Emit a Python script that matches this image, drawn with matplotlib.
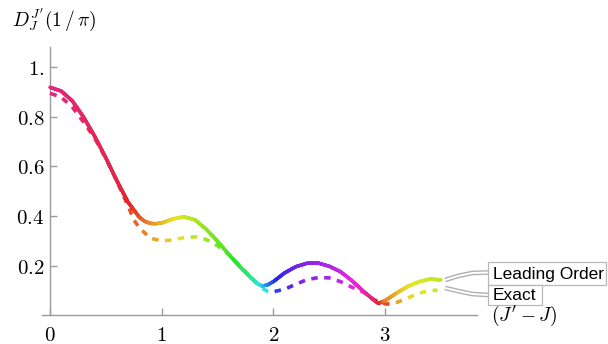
import numpy as np
import matplotlib
matplotlib.use("Agg")
import matplotlib.pyplot as plt
from matplotlib.collections import LineCollection
from matplotlib.colors import hsv_to_rgb
from matplotlib.patches import Rectangle
from matplotlib.lines import Line2D

plt.rcParams['mathtext.fontset'] = 'cm'

# ---------------- data ----------------
x_lead = [0.0, 0.1, 0.2, 0.3, 0.4, 0.5, 0.6, 0.7, 0.8, 0.85, 0.9, 0.95, 1.0, 1.1, 1.2, 1.3,
          1.4, 1.5, 1.6, 1.7, 1.8, 1.85, 1.9, 1.95, 2.0, 2.1, 2.2, 2.3, 2.4, 2.5, 2.6,
          2.7, 2.8, 2.9, 2.94, 3.0, 3.1, 3.2, 3.3, 3.4, 3.5]
y_lead = [0.920, 0.905, 0.865, 0.800, 0.722, 0.635, 0.541, 0.455, 0.395, 0.378, 0.370, 0.369,
          0.372, 0.388, 0.397, 0.384, 0.346, 0.298, 0.245, 0.195, 0.150, 0.129, 0.117, 0.122,
          0.135, 0.170, 0.195, 0.209, 0.210, 0.197, 0.175, 0.140, 0.098, 0.060, 0.047, 0.058,
          0.088, 0.115, 0.134, 0.145, 0.142]

x_exact = [0.0, 0.1, 0.2, 0.3, 0.4, 0.5, 0.6, 0.7, 0.75, 0.8, 0.9, 1.0, 1.1, 1.2, 1.3, 1.4,
           1.5, 1.6, 1.7, 1.8, 1.9, 1.95, 2.0, 2.1, 2.2, 2.3, 2.4, 2.5, 2.6, 2.7, 2.8, 2.9,
           3.0, 3.05, 3.1, 3.2, 3.3, 3.4, 3.47]
y_exact = [0.896, 0.880, 0.840, 0.780, 0.715, 0.632, 0.540, 0.440, 0.385, 0.352, 0.310,
           0.300, 0.303, 0.313, 0.316, 0.305, 0.280, 0.245, 0.198, 0.150, 0.108, 0.095,
           0.094, 0.104, 0.124, 0.143, 0.151, 0.150, 0.135, 0.113, 0.094, 0.062, 0.045,
           0.044, 0.050, 0.068, 0.088, 0.099, 0.100]

# colour (hue of the phase) along each curve
hue_x_lead = [0, 0.6, 0.75, 0.9, 1.1, 1.3, 1.6, 1.8, 1.9, 1.95, 2.05, 2.2, 2.35, 2.6, 2.8,
              2.93, 3.0, 3.2, 3.5]
hue_lead = [0.92, 0.97, 1.01, 1.09, 1.16, 1.21, 1.30, 1.42, 1.52, 1.58, 1.68, 1.73, 1.76,
            1.81, 1.87, 1.96, 2.08, 2.16, 2.20]
hue_x_exact = [0, 0.6, 0.75, 1.0, 1.25, 1.5, 1.8, 1.98, 2.05, 2.15, 2.3, 2.5, 2.7, 2.9, 3.06,
               3.2, 3.5]
hue_exact = [0.92, 0.97, 1.05, 1.13, 1.19, 1.26, 1.38, 1.54, 1.66, 1.71, 1.75, 1.78, 1.83,
             1.92, 2.08, 2.15, 2.20]

x_ticks = [0, 1, 2, 3]
x_tick_labels = ['0', '1', '2', '3']
y_ticks = [0.2, 0.4, 0.6, 0.8, 1.0]
y_tick_labels = ['0.2', '0.4', '0.6', '0.8', '1.']
legend_labels = ['Leading Order', 'Exact']

# ---------------- figure ----------------
W, H = 608, 344
fig = plt.figure(figsize=(W / 100, H / 100), dpi=100)
L, R, T, B = 42, 477, 47, 315
ax = fig.add_axes([L / W, (H - B) / H, (R - L) / W, (B - T) / H])
ax.set_xlim((42 - 50) / 111.7, (477 - 50) / 111.7)
ax.set_ylim(0, (315 - 47) / 247.5)

axc = '#9a9a9a'
for s in ['top', 'right']:
    ax.spines[s].set_visible(False)
ax.spines['left'].set_position(('data', 0))
for s in ['left', 'bottom']:
    ax.spines[s].set_color(axc)
    ax.spines[s].set_linewidth(1.0)
ax.set_xticks(x_ticks)
ax.set_xticklabels(['$%s$' % t for t in x_tick_labels])
ax.set_yticks(y_ticks)
ax.set_yticklabels(['$%s$' % t for t in y_tick_labels])
ax.tick_params(direction='in', length=5, width=1, color=axc, labelsize=15)
ax.tick_params(axis='x', pad=7)
ax.tick_params(axis='y', pad=4)


def hue_color(h):
    return hsv_to_rgb([h % 1.0, 0.84, 0.90])


def draw_curve(xs, ys, hx, hv, lw, dash=None, z=3):
    pts = ax.transData.transform(np.column_stack([xs, ys]))
    d = np.hypot(*np.diff(pts, axis=0).T)
    s = np.concatenate([[0], np.cumsum(d)])
    n = int(s[-1] / 0.5) + 2
    ss = np.linspace(0, s[-1], n)
    px = np.interp(ss, s, pts[:, 0])
    py = np.interp(ss, s, pts[:, 1])
    dat = ax.transData.inverted().transform(np.column_stack([px, py]))
    if dash is None:
        segs = [dat[i:i + 2] for i in range(n - 1)]
        xm = 0.5 * (dat[:-1, 0] + dat[1:, 0])
        cols = [hue_color(h) for h in np.interp(xm, hx, hv)]
        lc = LineCollection(segs, colors=cols, linewidths=lw, capstyle='round', zorder=z)
    else:
        on, period = dash
        phase = ss % period
        segs, cols = [], []
        i = 0
        while i < n:
            if phase[i] < on:
                j = i
                while j + 1 < n and phase[j + 1] < on and phase[j + 1] >= phase[j]:
                    j += 1
                if j > i:
                    seg = dat[i:j + 1]
                    segs.append(seg)
                    cols.append(hue_color(np.interp(seg[:, 0].mean(), hx, hv)))
                i = j + 1
            else:
                i += 1
        lc = LineCollection(segs, colors=cols, linewidths=lw, capstyle='butt', zorder=z)
    ax.add_collection(lc)


draw_curve(x_exact, y_exact, hue_x_exact, hue_exact, 2.6, dash=(7, 13), z=3)
draw_curve(x_lead, y_lead, hue_x_lead, hue_lead, 2.5, z=4)

# ---------------- labels ----------------
def fx(p):
    return p / W


def fy(p):
    return 1 - p / H


fig.text(fx(12), fy(20), r"$D_J^{J'}(1\,/\,\pi)$", fontsize=14, ha='left', va='center')
fig.text(fx(491), fy(316), r"$(J' - J)$", fontsize=14, ha='left', va='center')

# callout leaders
leaders = [([445, 458, 472, 488], [280, 276, 273, 272.5]),
           ([445, 458, 472, 488], [288, 291, 294, 295])]
for lx, ly in leaders:
    X = [fx(v) for v in lx]
    Y = [fy(v) for v in ly]
    fig.add_artist(Line2D(X, Y, transform=fig.transFigure, color='#b0b0b0', lw=3.4,
                          solid_capstyle='butt'))
    fig.add_artist(Line2D(X, Y, transform=fig.transFigure, color='white', lw=1.4,
                          solid_capstyle='butt'))

boxes = [(488, 262, 606, 285), (488, 285, 542, 305)]
for (x0, y0, x1, y1), lab in zip(boxes, legend_labels):
    fig.add_artist(Rectangle((fx(x0), fy(y1)), fx(x1) - fx(x0), fy(y0) - fy(y1),
                             transform=fig.transFigure, facecolor='white',
                             edgecolor='#b8b8b8', lw=0.9))
    fig.text(fx(x0 + 5), fy((y0 + y1) / 2 + 0.5), lab, family='Liberation Sans',
             fontsize=12.5, ha='left', va='center')

fig.savefig('out.png', dpi=100)
